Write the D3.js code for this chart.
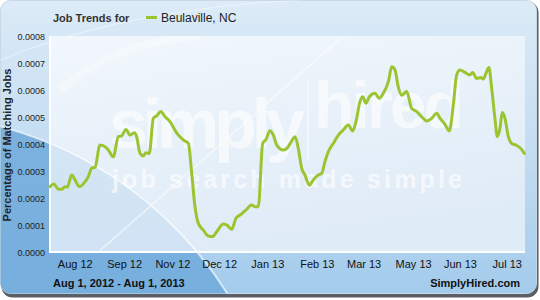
<!DOCTYPE html>
<html><head><meta charset="utf-8">
<script src="https://cdn.jsdelivr.net/npm/d3@7"></script>
<style>html,body{margin:0;padding:0;background:#fff;}svg{display:block;}</style>
</head><body>
<script>
// ---- data ----
const seriesName = "Beulaville, NC";
const startDate = "2012-08-01";
// day offsets from Aug 1, 2012
const days = [0,3.1,6.4,9.0,11.5,13.3,16.7,19.2,22.5,26.9,29.4,32.0,34.6,38.4,42.3,44.8,48.6,52.5,55.1,58.4,61.5,64.8,66.6,69.2,71.7,73.8,76.3,79.4,82.0,85.1,88.4,92.2,97.4,102.4,106.3,108.9,111.4,114.0,117.8,121.6,125.0,128.1,133.2,135.8,139.6,142.9,146.0,150.6,155.0,157.5,160.1,163.4,166.0,169.0,171.6,174.2,179.3,183.1,185.7,188.3,190.8,193.4,195.9,199.3,202.3,206.2,208.8,211.3,213.9,217.7,221.6,225.4,229.2,232.6,235.1,238.2,240.3,242.8,245.4,249.7,253.0,256.1,260.0,262.6,265.1,267.6,270.3,274.1,277.9,281.8,285.6,289.5,293.3,297.1,299.7,303.5,306.8,309.9,312.5,315.0,318.9,322.7,324.8,327.8,330.9,333.0,335.0,337.3,339.4,341.9,343.7,345.8,347.5,349.6,352.2,354.8,358.1,361.2,364.5];
const values = [0.000242,0.000252,0.000232,0.000232,0.000242,0.000240,0.000285,0.000267,0.000242,0.000260,0.000279,0.000310,0.000314,0.000396,0.000390,0.000378,0.000353,0.000427,0.000430,0.000454,0.000433,0.000442,0.000427,0.000365,0.000356,0.000368,0.000365,0.000495,0.000504,0.000520,0.000501,0.000483,0.000440,0.000415,0.000402,0.000291,0.000168,0.000106,0.000081,0.000059,0.000057,0.000075,0.000104,0.000100,0.000084,0.000125,0.000137,0.000156,0.000174,0.000168,0.000168,0.000402,0.000417,0.000449,0.000433,0.000396,0.000378,0.000390,0.000411,0.000427,0.000384,0.000310,0.000285,0.000248,0.000267,0.000285,0.000291,0.000335,0.000372,0.000402,0.000433,0.000452,0.000470,0.000448,0.000483,0.000557,0.000575,0.000551,0.000575,0.000588,0.000569,0.000588,0.000631,0.000686,0.000674,0.000612,0.000581,0.000594,0.000532,0.000520,0.000501,0.000485,0.000495,0.000514,0.000495,0.000473,0.000448,0.000544,0.000656,0.000674,0.000665,0.000656,0.000665,0.000643,0.000646,0.000641,0.000662,0.000683,0.000606,0.000495,0.000427,0.000458,0.000517,0.000495,0.000427,0.000402,0.000396,0.000386,0.000365];
const yTicks = [0,0.0001,0.0002,0.0003,0.0004,0.0005,0.0006,0.0007,0.0008];
const xTickDates = ["2012-08-20","2012-09-27","2012-11-03","2012-12-09","2013-01-15","2013-02-22","2013-03-30","2013-05-07","2013-06-12","2013-07-18"];
const domainDates = ["2012-08-01","2013-08-01"];

// ---- layout ----
const W = 540, H = 300;
const m = {l:50, r:525, t:36, b:252};
const parse = d3.utcParse("%Y-%m-%d");
const t0 = parse(startDate);
const pts = days.map((d,i)=>({date:new Date(t0.getTime()+d*86400000), v:values[i]}));

const svg = d3.select("body").append("svg").attr("width",W).attr("height",H);
const defs = svg.append("defs");
const g1 = defs.append("linearGradient").attr("id","panel").attr("x1",0).attr("y1",0).attr("x2",0).attr("y2",1);
g1.append("stop").attr("offset","0").attr("stop-color","#dcebf7");
g1.append("stop").attr("offset","0.5").attr("stop-color","#c4ddf2");
g1.append("stop").attr("offset","1").attr("stop-color","#a3cbec");
const g2 = defs.append("linearGradient").attr("id","plot").attr("x1",0).attr("y1",0).attr("x2",0.3).attr("y2",1);
g2.append("stop").attr("offset","0").attr("stop-color","#f1f7fc");
g2.append("stop").attr("offset","1").attr("stop-color","#dfebf7");
defs.append("clipPath").attr("id","pclip").append("rect").attr("x",0.5).attr("y",0.5).attr("width",536).attr("height",293).attr("rx",10);
defs.append("clipPath").attr("id","plotclip").append("rect").attr("x",m.l).attr("y",m.t).attr("width",m.r-m.l).attr("height",m.b-m.t);

// panel
svg.append("rect").attr("x",1.5).attr("y",1.5).attr("width",537).attr("height",296).attr("rx",11).attr("fill","#5a5f66");
svg.append("rect").attr("x",0.5).attr("y",0.5).attr("width",536).attr("height",293).attr("rx",10).attr("fill","url(#panel)").attr("stroke","#c9d8e4").attr("stroke-width",1);
const pg = svg.append("g").attr("clip-path","url(#pclip)");
pg.append("circle").attr("cx",-100).attr("cy",500).attr("r",387).attr("fill","#6ea9da").attr("opacity",0.85);
pg.append("circle").attr("cx",-100).attr("cy",500).attr("r",387).attr("fill","none").attr("stroke","#e8f2fb").attr("stroke-width",2).attr("opacity",0.8);
pg.append("path").attr("d","M0,60 Q120,10 300,0").attr("fill","none").attr("stroke","#ffffff").attr("stroke-width",1).attr("opacity",0.5);

// plot area
svg.append("rect").attr("x",m.l).attr("y",m.t).attr("width",m.r-m.l).attr("height",m.b-m.t).attr("fill","url(#plot)");
const cg = svg.append("g").attr("clip-path","url(#plotclip)");
cg.append("circle").attr("cx",-100).attr("cy",500).attr("r",387).attr("fill","#c7ddf1").attr("opacity",0.6);
cg.append("circle").attr("cx",-100).attr("cy",500).attr("r",387).attr("fill","none").attr("stroke","#ffffff").attr("stroke-width",1.5).attr("opacity",0.8);
cg.append("path").attr("d","M95,255 L350,30").attr("stroke","#ffffff").attr("stroke-width",1.5).attr("opacity",0.6);
cg.append("path").attr("d","M60,90 Q120,40 200,36").attr("fill","none").attr("stroke","#ffffff").attr("stroke-width",8).attr("opacity",0.3);

// watermark
const wm = svg.append("g").attr("fill","#ffffff").attr("opacity",0.62).style("font-family","'Liberation Sans', Arial, sans-serif").style("font-weight","bold");
wm.append("text").attr("x",109).attr("y",148).attr("font-size",70).attr("textLength",196).attr("lengthAdjust","spacing").text("simply");
wm.append("rect").attr("x",307).attr("y",80).attr("width",1.5).attr("height",80);
wm.append("text").attr("x",314).attr("y",128).attr("font-size",66).attr("textLength",150).attr("lengthAdjust","spacing").text("hired");
wm.append("text").attr("x",112).attr("y",188).attr("font-size",25).attr("textLength",350).attr("lengthAdjust","spacing").text("job search made simple");

// plot border
svg.append("path").attr("d",`M${m.l},${m.t} V${m.b} H${m.r}`).attr("fill","none").attr("stroke","#ffffff").attr("stroke-width",2);

// scales
const x = d3.scaleUtc().domain(domainDates.map(parse)).range([m.l,m.r]);
const y = d3.scaleLinear().domain([0,0.0008]).range([m.b,m.t]);

const line = d3.line().x(d=>x(d.date)).y(d=>y(d.v)).curve(d3.curveMonotoneX);
svg.append("path").datum(pts).attr("d",line).attr("fill","none").attr("stroke","#9bc431").attr("stroke-width",3).attr("stroke-linejoin","round").attr("stroke-linecap","round");

const font = "'Liberation Sans', Arial, sans-serif";
// axes
const ya = svg.append("g").attr("transform",`translate(${m.l-5},0)`)
  .call(d3.axisLeft(y).tickValues(yTicks).tickFormat(d3.format(".4f")).tickSize(0).tickPadding(0));
ya.select(".domain").remove();
ya.selectAll("text").attr("font-family",font).attr("font-size",9).attr("fill","#222").attr("dy","0.35em");

const xa = svg.append("g").attr("transform",`translate(0,${m.b})`)
  .call(d3.axisBottom(x).tickValues(xTickDates.map(parse)).tickFormat(d3.utcFormat("%b %y")).tickSize(0).tickPadding(8));
xa.select(".domain").remove();
xa.selectAll("text").attr("font-family",font).attr("font-size",11).attr("fill","#111");

// texts
svg.append("text").attr("transform","translate(11,145) rotate(-90)").attr("text-anchor","middle")
  .attr("font-family",font).attr("font-weight","bold").attr("font-size",11).attr("fill","#222").text("Percentage of Matching Jobs");
svg.append("text").attr("x",53).attr("y",22).attr("font-family",font).attr("font-weight","bold").attr("font-size",11).attr("fill","#333").text("Job Trends for");
svg.append("line").attr("x1",146).attr("x2",157).attr("y1",17.5).attr("y2",17.5).attr("stroke","#9bc431").attr("stroke-width",3);
svg.append("text").attr("x",161).attr("y",22).attr("font-family",font).attr("font-size",12).attr("fill","#222").text(seriesName);
svg.append("text").attr("x",53).attr("y",287).attr("font-family",font).attr("font-weight","bold").attr("font-size",11).attr("fill","#111").text("Aug 1, 2012 - Aug 1, 2013");
svg.append("text").attr("x",520).attr("y",287).attr("text-anchor","end").attr("font-family",font).attr("font-weight","bold").attr("font-size",11).attr("fill","#111").text("SimplyHired.com");
</script>
</body></html>
